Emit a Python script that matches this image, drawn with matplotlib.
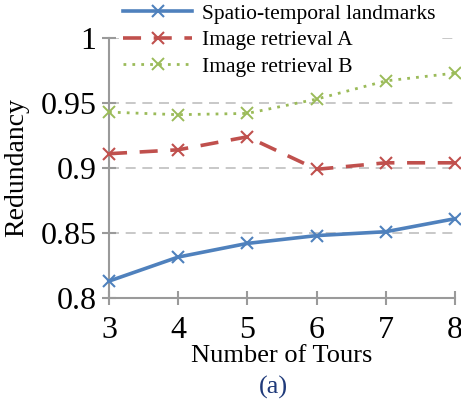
import matplotlib
matplotlib.use("Agg")
import matplotlib.pyplot as plt

tours = [3, 4, 5, 6, 7, 8]
spatio = [0.813, 0.8315, 0.842, 0.848, 0.851, 0.861]
retr_a = [0.911, 0.914, 0.924, 0.899, 0.904, 0.904]
retr_b = [0.943, 0.941, 0.942, 0.953, 0.967, 0.973]
yticks = [0.8, 0.85, 0.9, 0.95, 1.0]
ytick_labels = ["0.8", "0.85", "0.9", "0.95", "1"]

plt.rcParams['font.family'] = ['Liberation Serif', 'DejaVu Serif']

fig = plt.figure(figsize=(4.61, 4.03), dpi=100)
ax = fig.add_axes([109/461, 1-298/403, (455-109)/461, (298-38)/403])

blue, red, green = '#4F81BD', '#C0504D', '#9BBB59'
ax.plot(tours, spatio, color=blue, lw=2.6, marker='x', ms=9, mew=1.5,
        label='Spatio-temporal landmarks', clip_on=False, zorder=3)
l2, = ax.plot(tours, retr_a, color=red, lw=2.6, marker='x', ms=9, mew=1.5,
        label='Image retrieval A', clip_on=False, zorder=3)
l2.set_dashes([5, 3.5])
l3, = ax.plot(tours, retr_b, color=green, lw=2.0, marker='x', ms=9, mew=1.4,
        label='Image retrieval B', clip_on=False, zorder=3)
l3.set_dashes([1, 2.2])

ax.set_xlim(3, 8)
ax.set_ylim(0.8, 1.0)
ax.set_xticks(tours)
ax.set_yticks(yticks)
ax.set_yticklabels(ytick_labels)
for y in yticks[1:]:
    ax.axhline(y, color='#BFBFBF', lw=1.2, dashes=(6, 4), zorder=1)

for s in ['top', 'right']:
    ax.spines[s].set_visible(False)
for s in ['left', 'bottom']:
    ax.spines[s].set_color('#9A9A9A')
    ax.spines[s].set_linewidth(1.5)
ax.tick_params(axis='both', direction='inout', length=10, width=1.5,
               color='#9A9A9A', labelsize=23, pad=4)
ax.tick_params(axis='x', pad=8)

ax.set_xlabel('Number of Tours', fontsize=19, labelpad=0)
ax.set_ylabel('Redundancy', fontsize=20, labelpad=8)

leg = ax.legend(loc='upper left', bbox_to_anchor=(0.035, 1.14), fontsize=15.5,
                frameon=True, handlelength=3.2, handletextpad=0.45,
                borderaxespad=0, labelspacing=0.3, borderpad=0.1)
leg.get_frame().set_edgecolor('none')
leg.get_frame().set_facecolor('white')
leg.get_frame().set_alpha(1)
leg.set_zorder(2.5)

fig.text(273/461, 1-387/403, '(a)', color='#1F3A7A', fontsize=19,
         ha='center', va='center')

fig.savefig('out.png', dpi=100)
